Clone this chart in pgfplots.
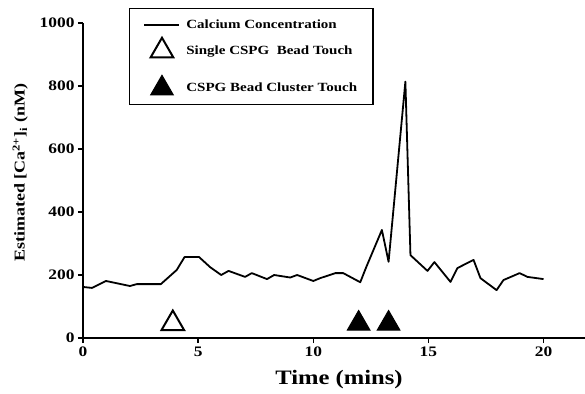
\documentclass[border=0pt]{standalone}
\usepackage{pgfplots}
\pgfplotsset{compat=1.18}
\usepackage{fontspec}
\setmainfont{Liberation Serif}[FakeStretch=1.2]
\pgfplotsset{
  linelegend/.style={legend image code/.code={\draw[##1] (0bp,0bp) -- (35bp,0bp);}},
  marklegend/.style={legend image code/.code={\draw[mark repeat=2,mark phase=2,##1] plot coordinates {(0bp,0bp) (17.5bp,0bp) (35bp,0bp)};}},
}
\begin{document}
\begin{tikzpicture}
\begin{axis}[
  scale only axis,
  width=502bp, height=315bp,
  xmin=0, xmax=21.8, ymin=0, ymax=1000,
  axis lines=left,
  axis line style={-, line width=2.5bp, black},
  xtick={0,5,10,15,20}, ytick={0,200,400,600,800,1000},
  tick align=outside,
  major tick length=5bp,
  tick style={line width=1.5bp, black},
  ticklabel style={font=\fontsize{14.5bp}{16bp}\selectfont\bfseries},
  /pgf/number format/assume math mode=true,
  /pgf/number format/1000 sep={},
  xlabel={Time (mins)},
  ylabel={Estimated [Ca\textsuperscript{2+}]\textsubscript{i} (nM)},
  every axis x label/.style={at={(axis description cs:0.51,-0.133)}, anchor=center, font=\fontsize{20.5bp}{22bp}\selectfont\bfseries},
  every axis y label/.style={at={(axis description cs:-0.125,0.524)}, anchor=center, rotate=90, font=\fontsize{15bp}{17bp}\selectfont\bfseries},
  legend cell align=left,
  legend style={at={(axis description cs:0.0916,1.0476)}, anchor=north west,
    draw=black, line width=1.2bp, font=\fontsize{12.5bp}{14bp}\selectfont\bfseries,
    inner xsep=14bp, inner ysep=9bp, row sep=6bp, /tikz/column sep=4bp},
]
\addplot[black, line width=1.8bp, line join=round, mark=none, linelegend] coordinates {
(0,162) (0.39,159) (1.0,181) (2.04,165) (2.33,171) (3.38,171) (4.07,216)
(4.41,257) (5.04,257) (5.52,225) (6.0,200) (6.32,213) (7.04,194) (7.33,206)
(7.99,187) (8.3,200) (9.0,192) (9.3,200) (10.0,181) (10.3,190) (10.96,206)
(11.3,206) (12.04,177) (12.3,225) (12.98,343) (13.27,242) (14.0,814)
(14.22,263) (14.96,213) (15.26,241) (15.96,178) (16.26,222) (16.96,248)
(17.26,190) (17.96,152) (18.26,184) (18.96,206) (19.3,194) (20.0,187)
};
\addlegendentry{Calcium Concentration}
\addplot[only marks, mark=triangle, mark size=13bp, mark options={line width=2bp, black}, marklegend] coordinates {(3.9,46)};
\addlegendentry{Single CSPG~ Bead Touch}
\addlegendimage{empty legend}
\addlegendentry{}
\addplot[only marks, mark=triangle*, mark size=13bp, mark options={line width=1bp, black, fill=black}, marklegend] coordinates {(11.97,46) (13.27,46)};
\addlegendentry{CSPG Bead Cluster Touch}
\end{axis}
\pgfresetboundingbox
\path[use as bounding box] (-83bp,-56bp) rectangle (502bp,338bp);
\end{tikzpicture}
\end{document}
